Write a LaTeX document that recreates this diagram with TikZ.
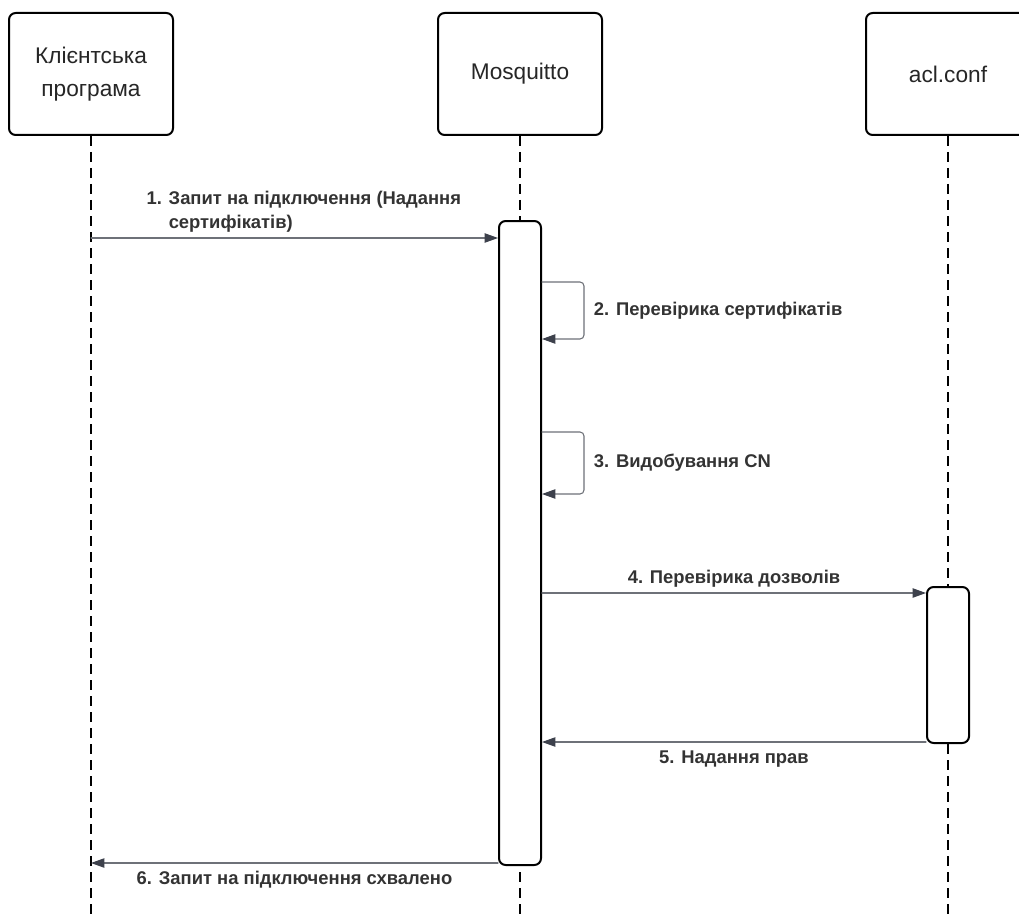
\documentclass[tikz,border=0pt]{standalone}
\usepackage{fontspec}
\setmainfont{Liberation Sans}
\usetikzlibrary{arrows.meta,positioning}
\definecolor{msgline}{HTML}{6E7178}
\definecolor{tipgray}{HTML}{3D414C}
\definecolor{labelgray}{HTML}{333333}
\begin{document}
\begin{tikzpicture}[x=0.75pt, y=-0.75pt, line join=round, line cap=round,
  head/.style={draw=black, line width=1.5pt, rounded corners=5pt, fill=white, minimum width=123pt, minimum height=91.5pt, align=center, font=\fontsize{17}{25}\selectfont, text=black!85},
  actbox/.style={draw=black, line width=1.5pt, rounded corners=5pt, fill=white, minimum width=31.5pt, inner sep=0pt},
  life/.style={line width=1.1pt, dash pattern=on 7.5pt off 4.5pt, line cap=butt},
  msg/.style={draw=msgline, line width=0.8pt, -{Triangle[length=10pt,width=7pt,color=tipgray]}},
  lbl/.style={font=\bfseries\fontsize{13.8}{18}\selectfont, text=labelgray, inner sep=0pt}]
  \useasboundingbox (0,0) rectangle (1019,916);
  \clip (0,0) rectangle (1019,916);
  \fill[white] (0,0) rectangle (1019,916);
  \path
  (91,74) node[head] (client) {Клієнтська\\програма}
  (520,74) node[head] (broker) {Mosquitto}
  (948,74) node[head] (acl) {acl.conf}
  ;
  % lifelines
  \foreach \p in {client,broker,acl}
    \draw[life] (\p.south) -- (\p.south |- 0,916);
  \node[actbox, minimum height=483pt] (bact) at (520,543) {};
  \node[actbox, minimum height=117pt] (aact) at (948,665) {};
  % messages
  \draw[msg] (client.south |- 0,238) -- node[lbl, midway, above=4pt, xshift=7pt, align=left] {1. Запит на підключення (Надання\\\phantom{1. }сертифікатів)} (bact.west |- 0,238);
  \draw[msg, rounded corners=3pt] (bact.east |- 0,282) -- ++(42,0) -- node[lbl, right=7pt] {2. Перевірика сертифікатів} ++(0,57) -- (bact.east |- 0,339);
  \draw[msg, rounded corners=3pt] (bact.east |- 0,432) -- ++(42,0) -- node[lbl, right=7pt] {3. Видобування CN} ++(0,62) -- (bact.east |- 0,494);
  \draw[msg] (bact.east |- 0,593) -- node[lbl, midway, above=4pt] {4. Перевірика дозволів} (aact.west |- 0,593);
  \draw[msg] (aact.west |- 0,742) -- node[lbl, midway, below=6pt] {5. Надання прав} (bact.east |- 0,742);
  \draw[msg] (bact.west |- 0,863) -- node[lbl, midway, below=6pt] {6. Запит на підключення схвалено} (client.south |- 0,863);
\end{tikzpicture}
\end{document}
